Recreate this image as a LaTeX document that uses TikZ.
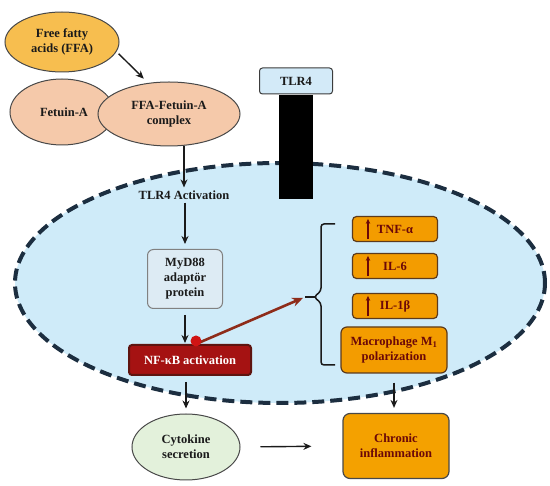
\documentclass[tikz,border=0pt]{standalone}
\usepackage{fontspec}
\setmainfont{Liberation Serif}
\usetikzlibrary{shapes.geometric,arrows.meta}
\definecolor{ffafill}{HTML}{F7BE4F}
\definecolor{peach}{HTML}{F5C9AA}
\definecolor{cellfill}{HTML}{CFEBF9}
\definecolor{celldash}{HTML}{1C2E40}
\definecolor{tlrfill}{HTML}{D3EAF8}
\definecolor{mydfill}{HTML}{DDEBF4}
\definecolor{nfkbfill}{HTML}{A51212}
\definecolor{nfkbline}{HTML}{5E1410}
\definecolor{orangefill}{HTML}{F39C00}
\definecolor{orangeline}{HTML}{5C3A1C}
\definecolor{darkred}{HTML}{6B0808}
\definecolor{cytofill}{HTML}{E3F1DB}
\definecolor{brownred}{HTML}{8E2C1A}
\definecolor{dotred}{HTML}{D01414}
\definecolor{ink}{HTML}{1A1A1A}
\begin{document}
\begin{tikzpicture}[x=1pt,y=-1pt,
  font=\fontsize{12.5}{15}\selectfont\bfseries,
  every node/.style={align=center, inner sep=0pt, text=ink},
  ell/.style={ellipse, draw=ink!80, line width=1pt},
  arr/.style={draw=ink, line width=1.4pt, -{Stealth[length=8pt,width=7pt]}},
  obox/.style={rectangle, rounded corners=4pt, draw=orangeline, line width=1.2pt, fill=orangefill, text=darkred, minimum width=85pt, minimum height=25pt},
  uparr/.style={draw=darkred, line width=1.3pt, -{Stealth[length=5pt,width=4.5pt]}}
]
\useasboundingbox (0,0) rectangle (550,486);
% cell
\node[ellipse, fill=cellfill, draw=celldash, line width=4pt, dash pattern=on 12pt off 6pt,
      minimum width=530pt, minimum height=240pt] (cell) at (280,283) {};
% TLR4 receptor
\node[rectangle, rounded corners=3pt, fill=tlrfill, draw=ink!85, line width=1pt,
      minimum width=73pt, minimum height=26pt] (tlr) at (296,81) {TLR4};
\node[rectangle, fill=black, minimum width=34pt, minimum height=104pt, anchor=north] (bar) at (tlr.south) {};
% top ellipses
\node[ell, fill=ffafill, minimum width=114pt, minimum height=60pt] (ffa) at (62,42) {Free fatty\\acids (FFA)};
\node[ell, fill=peach, minimum width=104pt, minimum height=66pt] (fet) at (62,112) {\hspace*{4pt}Fetuin-A};
\node[ell, fill=peach, minimum width=142pt, minimum height=64pt] (cplx) at (169,114) {FFA-Fetuin-A\\complex};
\draw[arr, shorten <=3pt, shorten >=6pt] (ffa.-10) -- (cplx.124);
% pathway
\node (act) at (184,195) {TLR4 Activation};
\draw[arr] (act.north |- cplx.south) -- ([yshift=3pt]act.north);
\node[rectangle, rounded corners=6pt, fill=mydfill, draw=ink!55, line width=1pt,
      minimum width=75pt, minimum height=59pt] (myd) at (185,279) {MyD88\\adaptör\\protein};
\draw[arr, shorten <=3pt, shorten >=5pt] (act.south -| myd.north) -- (myd.north);
\node[rectangle, rounded corners=3pt, fill=nfkbfill, draw=nfkbline, line width=2pt,
      minimum width=122pt, minimum height=30pt, text=white] (nfkb) at (190,360) {NF-κB activation};
\draw[arr, shorten <=6pt, shorten >=1pt] (myd.south) -- (myd.south |- nfkb.north);
% brace
\coordinate (tip) at (305,297);
\draw[ink, line width=1.5pt, rounded corners=3pt]
  (335,224) -- (321,224) -- (321,291) -- (314,297) -- (321,303) -- (321,365) -- (335,365);
\draw[ink, line width=1.5pt] (tip) -- (315,297);
% red arrow
\draw[brownred, line width=2.6pt, -{Stealth[length=11pt,width=9pt]}, shorten >=2pt]
  ([xshift=6pt]nfkb.north) -- (tip);
\fill[dotred] ([xshift=6pt,yshift=3pt]nfkb.north) circle (5.5pt);
% cytokine boxes
\node[obox] (tnf) at (395,229) {TNF-α};
\node[obox] (il6) at (395,266) {IL-6};
\node[obox] (il1) at (395,306) {IL-1β};
\foreach \b in {tnf,il6,il1}{
  \draw[uparr] ([xshift=-27pt,yshift=3pt]\b.south) -- ([xshift=-27pt,yshift=-3pt]\b.north);
}
\node[obox, rounded corners=6pt, minimum width=106pt, minimum height=46pt] (mac) at (394,350) {Macrophage M\textsubscript{1}\\polarization};
% outcomes
\node[ell, fill=cytofill, minimum width=108pt, minimum height=66pt] (cyto) at (186,447) {Cytokine\\secretion};
\node[rectangle, rounded corners=7pt, fill=orangefill!95!yellow, draw=ink!80, line width=1.2pt,
      minimum width=106pt, minimum height=65pt, text=darkred] (chr) at (396,446) {Chronic\\inflammation};
\draw[arr, shorten <=6pt, shorten >=5pt] (nfkb.south -| cyto.north) -- (cyto.north);
\draw[arr, shorten <=9pt, shorten >=5pt] (mac.south) -- (mac.south |- chr.north);
\draw[arr, shorten <=20pt, shorten >=31pt] (cyto.east) -- (chr.west);
\end{tikzpicture}
\end{document}
